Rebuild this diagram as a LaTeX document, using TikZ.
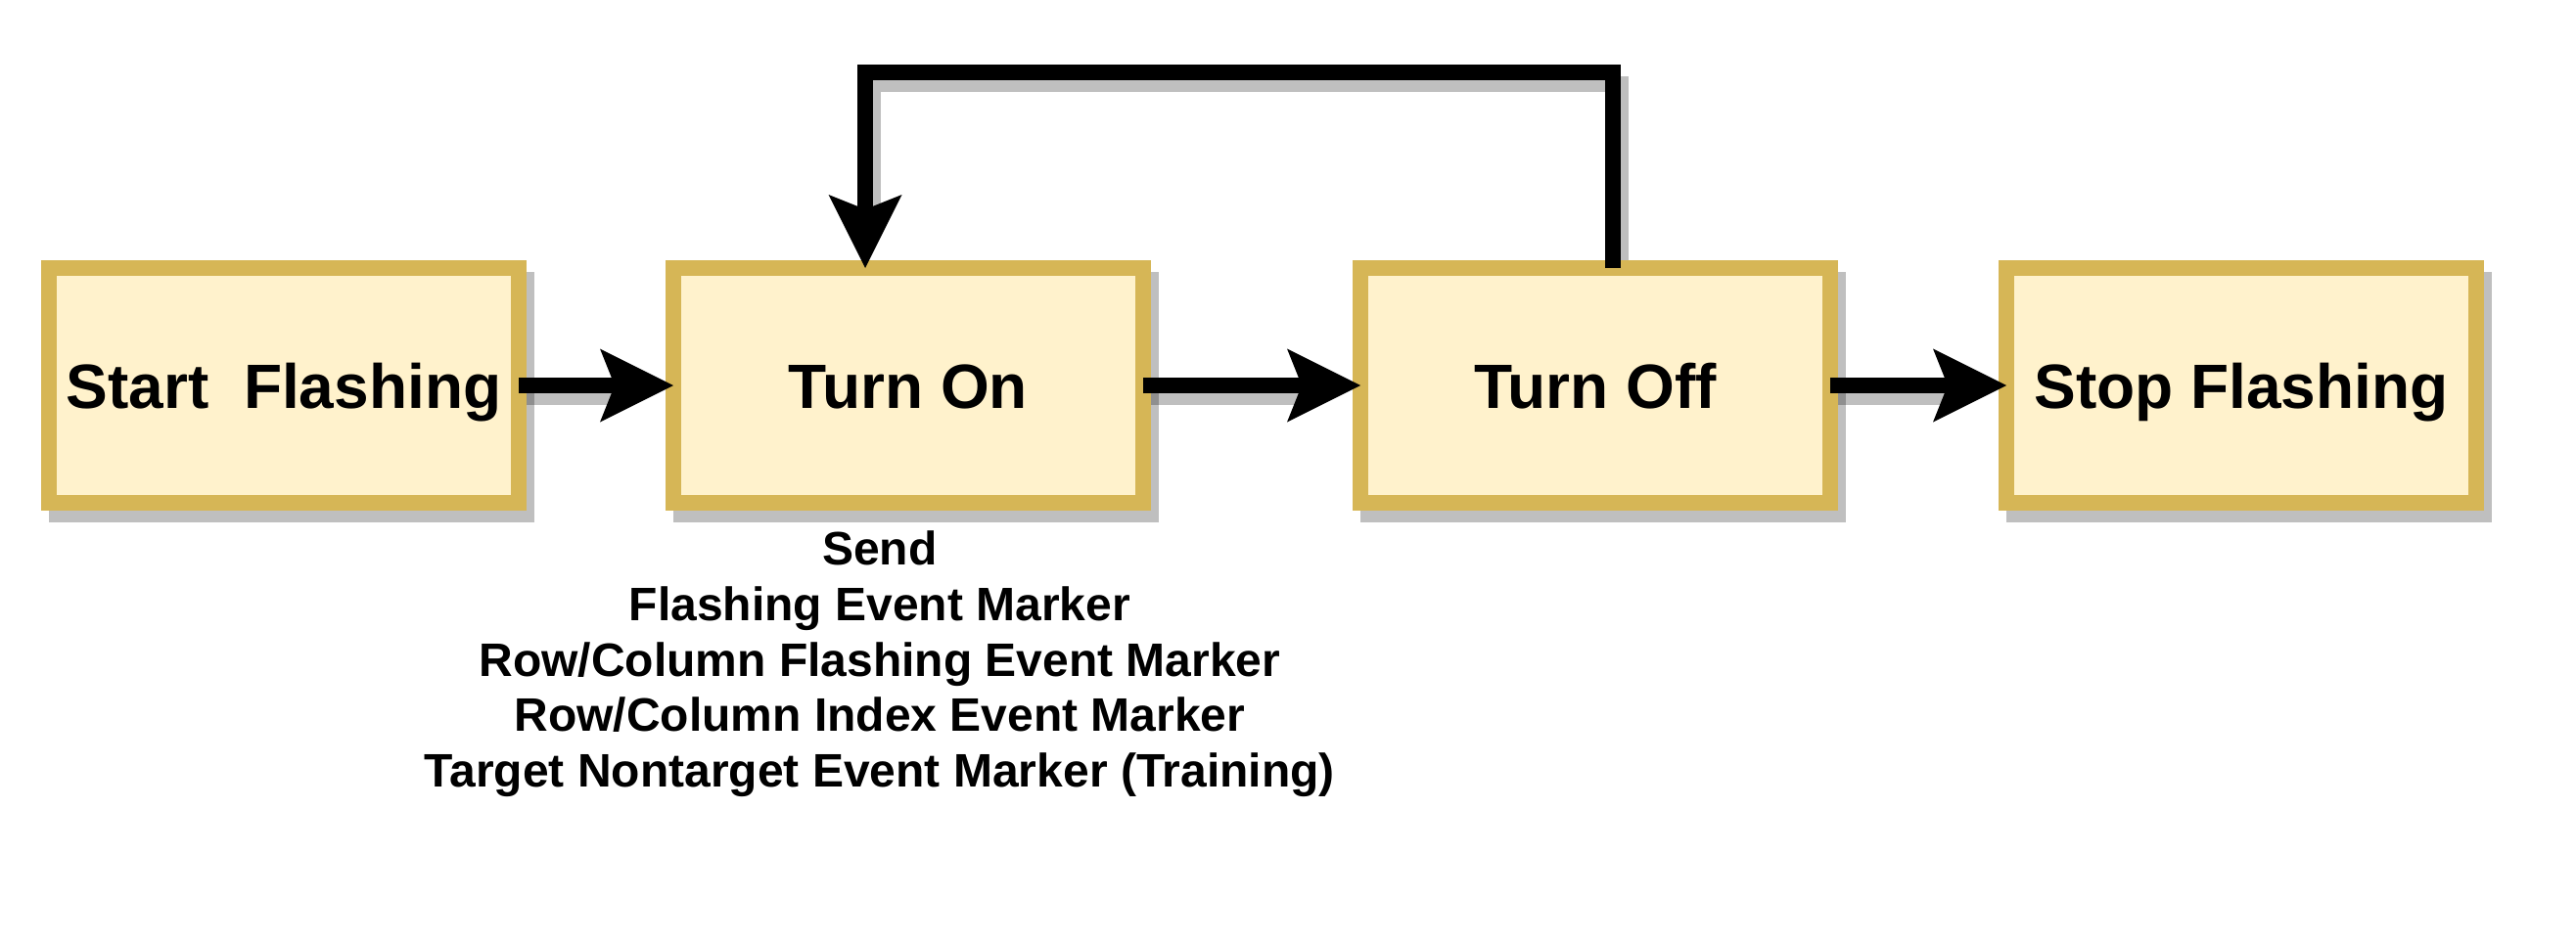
\documentclass[tikz,border=0pt]{standalone}
\usepackage{fontspec}
\setmainfont{Liberation Sans}
\usepackage{xcolor}
\usepackage{tikz}
\usetikzlibrary{arrows.meta,shadows}

\definecolor{boxfill}{HTML}{FFF2CC}
\definecolor{boxline}{HTML}{D6B656}
\definecolor{shadowgray}{HTML}{BFBFBF}

\begin{document}
\begin{tikzpicture}[x=1pt, y=1pt,
    statebox/.style={draw=boxline, fill=boxfill, line width=4pt, minimum width=120pt, minimum height=60pt,
        inner sep=0pt, outer sep=0pt, font=\fontsize{16}{19}\selectfont\bfseries, text height=11.5pt, text depth=0pt,
        general shadow={fill=shadowgray, draw=shadowgray, shadow xshift=2pt, shadow yshift=-3pt}},
    flow/.style={line width=4pt, line join=miter,
        -{Stealth[length=18.75pt, width=18.75pt, inset=3.75pt, line width=0pt]},
        preaction={draw=black, opacity=0.25, line width=4pt, -, shorten <=#1, shorten >=15pt,
            transform canvas={shift={(2pt,-3pt)}}}},
    flow/.default=0pt,
    notetext/.style={font=\fontsize{12}{14.2}\selectfont\bfseries, align=center, inner sep=0pt}]
    \useasboundingbox[fill=white] (0,0) rectangle (658,-241);

    % States
    \node[statebox] (start) at (72.5,-98.5) {Start \ Flashing};
    \node[statebox] (on) at (232,-98.5) {Turn On};
    \node[statebox] (off) at (407.5,-98.5) {Turn Off};
    \node[statebox] (stop) at (572.5,-98.5) {Stop Flashing};

    % Events sent when turned on
    \node[notetext, anchor=north] (events) at (224.7,-135.5) {Send\\Flashing Event Marker\\Row/Column Flashing Event Marker\\Row/Column Index Event Marker\\Target Nontarget Event Marker (Training)};

    % Flow
    \draw[flow] (start.east) -- (on.west);
    \draw[flow] (on.east) -- (off.west);
    \draw[flow] (off.east) -- (stop.west);

    % Loop back
    \draw[flow=5pt] ([xshift=4.5pt]off.north) -- ++(0,50) -| ([xshift=-11pt]on.north);
\end{tikzpicture}
\end{document}
